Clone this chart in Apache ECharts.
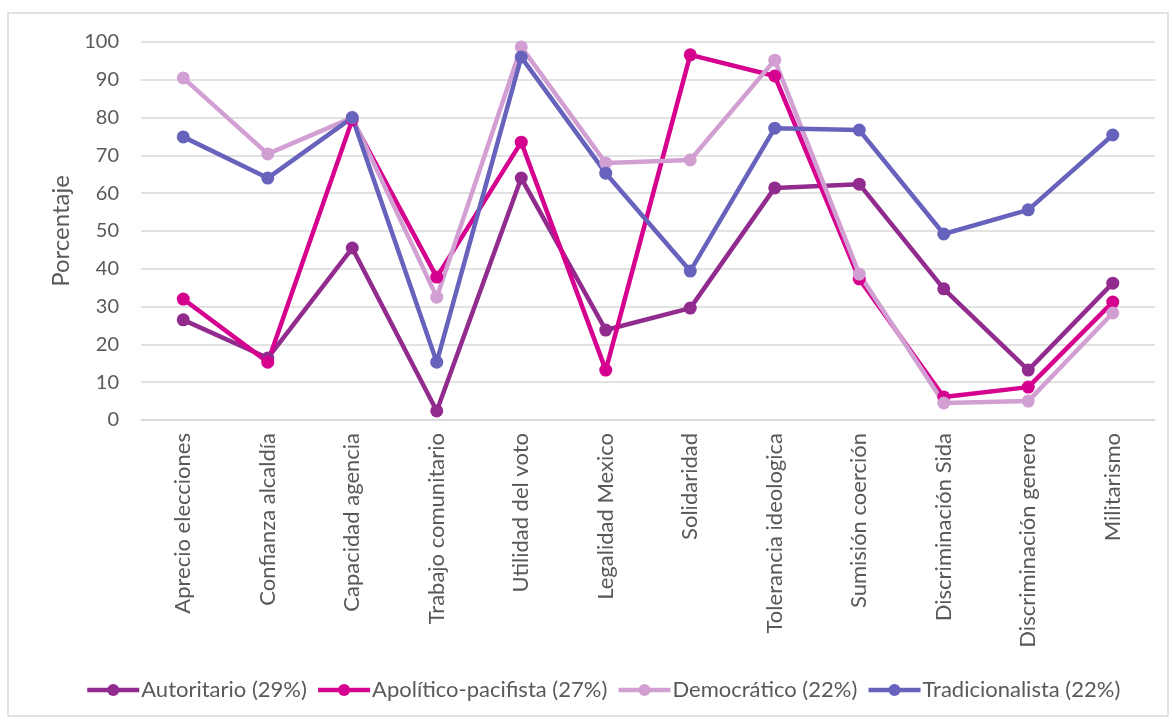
<!DOCTYPE html>
<html>
<head>
<meta charset="utf-8">
<script src="https://cdn.jsdelivr.net/npm/echarts@6/dist/echarts.min.js"></script>
<style>
  html, body { margin: 0; padding: 0; background: #fff; }
  #chart { width: 1172px; height: 723px; }
</style>
</head>
<body>
<div id="chart"></div>
<script>
const categories = [
  'Aprecio elecciones', 'Confianza alcaldía', 'Capacidad agencia', 'Trabajo comunitario',
  'Utilidad del voto', 'Legalidad Mexico', 'Solidaridad', 'Tolerancia ideologica',
  'Sumisión coerción', 'Discriminación Sida', 'Discriminación genero', 'Militarismo'
]
const autoritario = [26.5, 16.4, 45.5, 2.4, 64.0, 23.8, 29.6, 61.4, 62.4, 34.7, 13.2, 36.2]
const apolitico = [32.0, 15.3, 79.4, 37.8, 73.5, 13.2, 96.6, 91.0, 37.3, 6.1, 8.7, 31.2]
const democratico = [90.5, 70.4, 80.0, 32.5, 98.7, 68.0, 68.8, 95.2, 38.6, 4.5, 5.0, 28.3]
const tradicionalista = [74.9, 64.0, 80.0, 15.3, 96.0, 65.3, 39.4, 77.2, 76.7, 49.2, 55.6, 75.4]
const yTicks = {min: 0, max: 100, interval: 10}

const textColor = '#595959'
const font = 'Lato'

const makeSeries = (name, data, color) => ({
  name: name,
  type: 'line',
  data: data,
  symbol: 'circle',
  symbolSize: 13,
  lineStyle: {width: 4.5, color: color},
  itemStyle: {color: color},
  emphasis: {disabled: true},
})

const chart = echarts.init(document.getElementById('chart'))
chart.setOption({
  backgroundColor: '#fff',
  animation: false,
  textStyle: {fontFamily: font},
  graphic: [{
    type: 'rect',
    shape: {x: 8, y: 13, width: 1160, height: 703},
    style: {fill: 'none', stroke: '#d9d9d9', lineWidth: 1.5},
    silent: true,
  }],
  grid: {
    left: 141,
    right: 17,
    top: 42,
    bottom: 303,
  },
  legend: {
    bottom: 17,
    left: 80,
    itemWidth: 52,
    itemHeight: 15,
    itemGap: 9,
    lineStyle: {width: 4.5},
    textStyle: {fontSize: 22, color: textColor, fontFamily: font, padding: [0, 0, 0, -3]},
    data: ['Autoritario (29%)', 'Apolítico-pacifista (27%)', 'Democrático (22%)', 'Tradicionalista (22%)'],
  },
  xAxis: {
    type: 'category',
    data: categories,
    boundaryGap: true,
    axisLine: {lineStyle: {color: '#d9d9d9', width: 1.5}},
    axisTick: {show: false},
    axisLabel: {
      rotate: 90,
      interval: 0,
      margin: 13,
      fontSize: 22,
      color: textColor,
      fontFamily: font,
    },
  },
  yAxis: {
    type: 'value',
    min: yTicks.min,
    max: yTicks.max,
    interval: yTicks.interval,
    name: 'Porcentaje',
    nameLocation: 'middle',
    nameGap: 68,
    nameTextStyle: {fontSize: 24, color: textColor, fontFamily: font},
    axisLine: {show: false},
    axisTick: {show: false},
    axisLabel: {fontSize: 20, color: textColor, margin: 22, fontFamily: font},
    splitLine: {lineStyle: {color: '#d9d9d9', width: 1.5}},
  },
  series: [
    makeSeries('Autoritario (29%)', autoritario, '#922B8E'),
    makeSeries('Apolítico-pacifista (27%)', apolitico, '#D6008F'),
    makeSeries('Democrático (22%)', democratico, '#D29FD2'),
    makeSeries('Tradicionalista (22%)', tradicionalista, '#6762BC'),
  ],
})
</script>
</body>
</html>
